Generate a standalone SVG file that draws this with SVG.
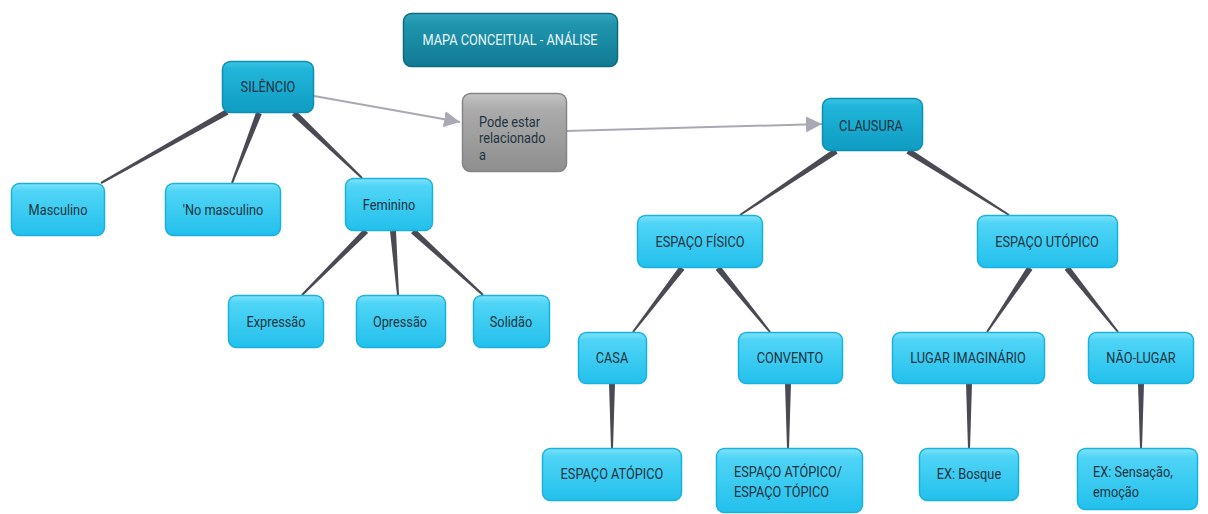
<svg xmlns="http://www.w3.org/2000/svg" width="1208" height="514" viewBox="0 0 1208 514">
<defs>
<linearGradient id="gLight" x1="0" y1="0" x2="0" y2="1">
<stop offset="0" stop-color="#7fe3fb"/>
<stop offset="0.15" stop-color="#4fd4f6"/>
<stop offset="1" stop-color="#22c0ec"/>
</linearGradient>
<linearGradient id="gDark" x1="0" y1="0" x2="0" y2="1">
<stop offset="0" stop-color="#3cc4e4"/>
<stop offset="0.15" stop-color="#21b5da"/>
<stop offset="1" stop-color="#0f9cc2"/>
</linearGradient>
<linearGradient id="gTitle" x1="0" y1="0" x2="0" y2="1">
<stop offset="0" stop-color="#33a6bf"/>
<stop offset="0.2" stop-color="#2095ae"/>
<stop offset="1" stop-color="#117a93"/>
</linearGradient>
<linearGradient id="gGray" x1="0" y1="0" x2="0" y2="1">
<stop offset="0" stop-color="#c4c4c4"/>
<stop offset="0.2" stop-color="#ababab"/>
<stop offset="1" stop-color="#8e8e8e"/>
</linearGradient>
<marker id="arr" markerUnits="userSpaceOnUse" markerWidth="18" markerHeight="16" refX="16" refY="8" orient="auto">
<path d="M0,0 L16,8 L0,16 Z" fill="#a9a9b5"/>
</marker>
</defs>
<style>
.n{fill:url(#gLight);stroke:#19b2de;stroke-width:1.5}
.d{fill:url(#gDark);stroke:#0c8fb4;stroke-width:1.5}
.t{font-family:Roboto,"Liberation Sans",sans-serif;font-size:14.5px;fill:#1f3440;text-anchor:middle;dominant-baseline:central;transform-box:fill-box;transform-origin:center;transform:scaleX(0.88)}
.tl{font-family:Roboto,"Liberation Sans",sans-serif;font-size:14.5px;fill:#1f3440;transform-box:fill-box;transform-origin:left center;transform:scaleX(0.88)}
.c{fill:#4a4a55}
.a{stroke:#a9a9b5;stroke-width:2;fill:none}
</style>
<rect width="1208" height="514" fill="#ffffff"/>

<g id="connectors">
<line class="a" x1="314" y1="96" x2="460" y2="122" marker-end="url(#arr)"/>
<line class="a" x1="566" y1="131" x2="822" y2="124" marker-end="url(#arr)"/>
<polygon class="c" points="225.5,109.4 100.5,182.1 101.5,183.9 228.5,114.6"/>
<polygon class="c" points="256.2,111.9 231.1,182.6 232.9,183.4 261.8,114.1"/>
<polygon class="c" points="291.9,115.2 361.3,178.7 362.7,177.3 296.1,110.8"/>
<polygon class="c" points="363.9,228.9 301.3,294.3 302.7,295.7 368.1,233.1"/>
<polygon class="c" points="390,231.2 397,295.1 399,294.9 396,230.8"/>
<polygon class="c" points="411,233.2 482.3,295.7 483.7,294.3 415,228.8"/>
<polygon class="c" points="834.3,148.5 739.5,214.2 740.5,215.8 837.7,153.5"/>
<polygon class="c" points="906.4,153.5 1008.5,215.8 1009.5,214.2 909.6,148.5"/>
<polygon class="c" points="679.6,266.2 632.2,331.4 633.8,332.6 684.4,269.8"/>
<polygon class="c" points="715.7,269.9 769.2,332.6 770.8,331.4 720.3,266.1"/>
<polygon class="c" points="1027.5,266.3 986.2,331.4 987.8,332.6 1032.5,269.7"/>
<polygon class="c" points="1064.7,269.9 1117.2,332.6 1118.8,331.4 1069.3,266.1"/>
<polygon class="c" points="609,383 611,449 613,449 615,383"/>
<polygon class="c" points="785,383 787,449 789,449 791,383"/>
<polygon class="c" points="966,383 968,449 970,449 972,383"/>
<polygon class="c" points="1138,383 1140,449 1142,449 1144,383"/>
</g>

<g id="title">
<rect x="403.5" y="13.5" width="214" height="53" rx="8" fill="url(#gTitle)" stroke="#0d6b80" stroke-width="1.5"/>
<text class="t" x="510" y="40" style="fill:#e8f6fa">MAPA CONCEITUAL - ANÁLISE</text>
</g>

<g id="silencio">
<rect class="d" x="222.5" y="61.5" width="91" height="51" rx="8"/>
<text class="t" x="268" y="87">SILÊNCIO</text>
</g>

<g id="pode">
<rect x="462.5" y="93.5" width="104" height="78" rx="8" fill="url(#gGray)" stroke="#858585" stroke-width="1.5"/>
<text class="tl" x="479" y="127">Pode estar</text>
<text class="tl" x="479" y="143.5">relacionado</text>
<text class="tl" x="479" y="160">a</text>
</g>

<g id="clausura">
<rect class="d" x="822.5" y="98.5" width="100" height="52" rx="8"/>
<text class="t" x="871" y="126">CLAUSURA</text>
</g>

<g id="masculino">
<rect class="n" x="11.5" y="183.5" width="93" height="52" rx="8"/>
<text class="t" x="58" y="210">Masculino</text>
</g>

<g id="nomasculino">
<rect class="n" x="165.5" y="183.5" width="115" height="52" rx="8"/>
<text class="t" x="223" y="210">'No masculino</text>
</g>

<g id="feminino">
<rect class="n" x="345.5" y="178.5" width="87" height="52" rx="8"/>
<text class="t" x="389" y="205">Feminino</text>
</g>

<g id="expressao">
<rect class="n" x="228.5" y="295.5" width="95" height="52" rx="8"/>
<text class="t" x="276" y="322">Expressão</text>
</g>

<g id="opressao">
<rect class="n" x="356.5" y="295.5" width="89" height="52" rx="8"/>
<text class="t" x="400" y="322">Opressão</text>
</g>

<g id="solidao">
<rect class="n" x="473.5" y="295.5" width="76" height="52" rx="8"/>
<text class="t" x="511" y="322">Solidão</text>
</g>

<g id="espacofisico">
<rect class="n" x="637.5" y="215.5" width="125" height="52" rx="8"/>
<text class="t" x="700" y="242">ESPAÇO FÍSICO</text>
</g>

<g id="espacoutopico">
<rect class="n" x="977.5" y="215.5" width="140" height="52" rx="8"/>
<text class="t" x="1047" y="242">ESPAÇO UTÓPICO</text>
</g>

<g id="casa">
<rect class="n" x="578.5" y="332.5" width="68" height="51" rx="8"/>
<text class="t" x="612" y="358">CASA</text>
</g>

<g id="convento">
<rect class="n" x="738.5" y="332.5" width="104" height="51" rx="8"/>
<text class="t" x="790" y="358">CONVENTO</text>
</g>

<g id="lugarimaginario">
<rect class="n" x="892.5" y="332.5" width="152" height="51" rx="8"/>
<text class="t" x="968" y="358">LUGAR IMAGINÁRIO</text>
</g>

<g id="naolugar">
<rect class="n" x="1088.5" y="332.5" width="105" height="51" rx="8"/>
<text class="t" x="1141" y="358">NÃO-LUGAR</text>
</g>

<g id="espacoatopico">
<rect class="n" x="542.5" y="448.5" width="139" height="52" rx="8"/>
<text class="t" x="612" y="474">ESPAÇO ATÓPICO</text>
</g>

<g id="atopicotopico">
<rect class="n" x="716.5" y="448.5" width="146" height="64" rx="8"/>
<text class="tl" x="734" y="477">ESPAÇO ATÓPICO/</text>
<text class="tl" x="734" y="497">ESPAÇO TÓPICO</text>
</g>

<g id="exbosque">
<rect class="n" x="919.5" y="448.5" width="99" height="52" rx="8"/>
<text class="t" x="969" y="474">EX: Bosque</text>
</g>

<g id="exsensacao">
<rect class="n" x="1077.5" y="448.5" width="120" height="61" rx="8"/>
<text class="tl" x="1093" y="477">EX: Sensação,</text>
<text class="tl" x="1093" y="497">emoção</text>
</g>
</svg>
